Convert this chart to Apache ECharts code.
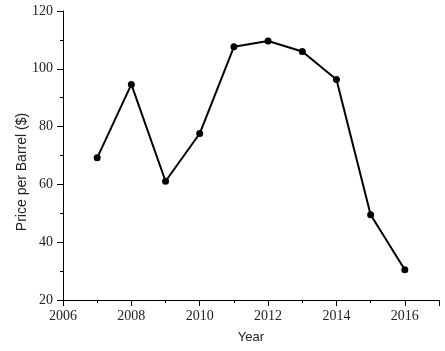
<!DOCTYPE html>
<html>
<head>
<meta charset="utf-8">
<script src="https://cdn.jsdelivr.net/npm/echarts@6/dist/echarts.min.js"></script>
<style>
  html, body { margin: 0; padding: 0; background: #fff; }
  #chart { width: 445px; height: 351px; }
</style>
</head>
<body>
<div id="chart"></div>
<script>
// oil price per year
var years = [2007, 2008, 2009, 2010, 2011, 2012, 2013, 2014, 2015, 2016];
var prices = [69.2, 94.6, 61.1, 77.6, 107.6, 109.6, 106.0, 96.3, 49.5, 30.5];

var xMin = 2006, xMax = 2017, xStep = 2;
var yMin = 20, yMax = 120, yStep = 20;

var points = years.map(function (y, i) { return [y, prices[i]]; });

var chart = echarts.init(document.getElementById('chart'), null, { renderer: 'canvas' });

var labelFont = { fontFamily: 'Liberation Serif', fontSize: 14, color: '#222' };
var nameFont = { fontFamily: 'Liberation Sans', fontSize: 13, color: '#222' };

var option = {
  animation: false,
  grid: { left: 63, top: 11, width: 376, height: 289, containLabel: false },
  xAxis: {
    type: 'value',
    min: xMin,
    max: xMax,
    interval: xStep,
    name: 'Year',
    nameLocation: 'middle',
    nameGap: 31,
    nameMoveOverlap: false,
    nameTextStyle: nameFont,
    splitLine: { show: false },
    axisLine: { show: true, lineStyle: { color: '#000', width: 1 } },
    axisTick: { show: true, inside: false, length: 6, lineStyle: { color: '#000' } },
    minorTick: { show: true, splitNumber: 2, length: 3, lineStyle: { color: '#000' } },
    axisLabel: Object.assign({ margin: 9, showMaxLabel: false,
      formatter: function (v) { return v === xMax ? '' : String(v); } }, labelFont)
  },
  yAxis: {
    type: 'value',
    min: yMin,
    max: yMax,
    interval: yStep,
    name: 'Price per Barrel ($)',
    nameLocation: 'middle',
    nameGap: 34,
    nameMoveOverlap: false,
    nameTextStyle: Object.assign({}, nameFont, { fontSize: 14, padding: [0, 33, 0, 0] }),
    splitLine: { show: false },
    axisLine: { show: true, lineStyle: { color: '#000', width: 1 } },
    axisTick: { show: true, inside: false, length: 6, lineStyle: { color: '#000' } },
    minorTick: { show: true, splitNumber: 2, length: 3, lineStyle: { color: '#000' } },
    axisLabel: Object.assign({ margin: 10 }, labelFont)
  },
  series: [{
    type: 'line',
    data: points,
    symbol: 'circle',
    symbolSize: 7,
    lineStyle: { color: '#000', width: 2 },
    itemStyle: { color: '#000' }
  }]
};

chart.setOption(option);
window.addEventListener('resize', chart.resize);
</script>
</body>
</html>
